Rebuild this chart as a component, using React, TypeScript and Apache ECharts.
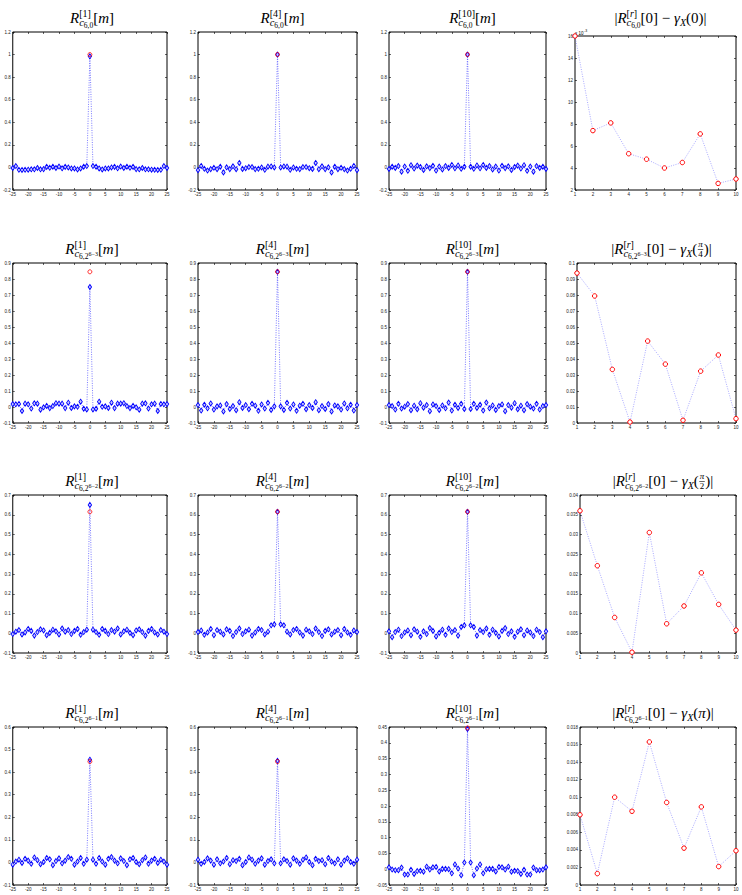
import React, { useEffect, useRef } from "react";
import * as echarts from "echarts";

// ---------------- data ----------------
const lagTicks = [-25,-24,-23,-22,-21,-20,-19,-18,-17,-16,-15,-14,-13,-12,-11,-10,-9,-8,-7,-6,-5,-4,-3,-2,-1,0,1,2,3,4,5,6,7,8,9,10,11,12,13,14,15,16,17,18,19,20,21,22,23,24,25];
const levelTicks = [1,2,3,4,5,6,7,8,9,10];
const iterLabels = ["1", "4", "10"];

// autocorrelation estimates for lags m = 1..25 (symmetric in m)
const r1c1 = [0.012,0.006,-0.009,-0.018,-0.009,-0.009,0,0.005,-0.008,0.008,-0.005,0.006,-0.003,0.005,-0.015,-0.017,-0.005,-0.017,-0.017,-0.02,-0.021,-0.022,-0.021,0.012,-0.005];
const r1c2 = [0,0.009,0.007,-0.021,0,-0.012,-0.015,0.003,0.003,-0.007,-0.013,0.04,-0.016,0.01,-0.015,0.001,-0.044,0.006,-0.016,-0.003,-0.015,-0.028,-0.012,0.013,-0.024];
const r1c3 = [0.006,-0.012,0.018,-0.008,0.022,-0.004,0.012,-0.018,0.008,-0.028,0.014,-0.006,0.01,-0.022,0.004,0.016,-0.01,0.02,-0.03,0.008,-0.038,0.012,-0.004,0.006,-0.014];
const r2c1 = [-0.015,-0.011,0.033,0.001,0.004,-0.006,0.027,-0.007,0.021,0.021,0.024,0.006,-0.007,0.007,-0.002,-0.017,0.021,0.023,-0.01,0.017,0.021,-0.025,0.019,0.017,0.018];
const r2c2 = [0.004,-0.018,0.026,-0.01,0.016,-0.024,0.008,0.02,-0.014,0.012,-0.006,0.03,-0.02,0.006,-0.012,0.018,-0.028,0.01,0.004,-0.016,0.022,-0.008,0.014,-0.022,0.012];
const r2c3 = [-0.012,0.02,-0.006,0.014,-0.022,0.028,-0.008,0.01,-0.018,0.006,0.016,-0.026,0.012,-0.004,0.024,-0.014,0.008,-0.02,0.018,0.002,-0.01,0.02,-0.016,0.006,0.012];
const r3c1 = [0.018,0.006,-0.008,0.022,0.012,-0.004,0.016,0.008,0.024,-0.006,0.01,0.018,0.002,-0.01,0.014,0.02,0.006,-0.012,0.012,0.022,0.004,-0.006,0.016,0.008,-0.004];
const r3c2 = [0.045,0.04,0.008,-0.006,0.016,0.022,0.004,-0.012,0.018,0.01,-0.004,0.024,0.006,-0.014,0.012,0.02,-0.006,0.008,0.016,-0.01,0.022,0.004,-0.008,0.014,0.006];
const r3c3 = [0.04,0.032,-0.012,0.016,0.006,0.024,-0.008,0.018,0.002,-0.016,0.012,0.026,-0.004,0.01,-0.018,0.008,0.02,-0.01,0.014,0.004,-0.014,0.018,0.006,-0.02,0.01];
const r4c1 = [0.012,-0.006,0.02,0.004,-0.01,0.016,0.024,0.008,-0.004,0.018,0.006,-0.012,0.014,0.02,0.002,-0.008,0.01,0.022,-0.006,0.008,0.016,-0.002,0.012,0.004,-0.01];
const r4c2 = [-0.004,0.014,0.006,-0.01,0.018,0.008,-0.006,0.012,0.022,0.002,-0.012,0.016,0.006,0.01,-0.008,0.02,0.004,-0.004,0.014,-0.01,0.008,0.018,0.002,-0.006,0.012];
const r4c3 = [0.021,-0.019,0.002,0.015,-0.013,0,0.001,0.001,-0.007,0.007,0.006,-0.001,0.008,-0.008,-0.005,-0.006,-0.015,-0.002,-0.017,-0.017,0.005,-0.003,-0.003,-0.001,0.006];

// lag-0 estimates (blue) and true values (red)
const peakEst = [[0.985, 1.0, 1.0], [0.75, 0.845, 0.845], [0.65, 0.615, 0.615], [0.455, 0.45, 0.444]];
const peakTrue = [1.0, 0.845, 0.615, 0.447];

// absolute errors vs level r
const err1 = [0.016, 0.0074, 0.0081, 0.0053, 0.0048, 0.0040, 0.0045, 0.0071, 0.0026, 0.0030];
const err2 = [0.0937, 0.0794, 0.0335, 0.0006, 0.0512, 0.0368, 0.0017, 0.0324, 0.0425, 0.0027];
const err3 = [0.036, 0.0221, 0.009, 0.0002, 0.0305, 0.0074, 0.0119, 0.0203, 0.0123, 0.0058];
const err4 = [0.008, 0.0013, 0.0100, 0.0084, 0.0163, 0.0094, 0.0042, 0.0089, 0.0021, 0.0039];

// y axis ranges per row (columns 1-3) and for the error column
const yRanges = [
  [[-0.2, 1.2, 0.2], [-0.2, 1.2, 0.2], [-0.2, 1.2, 0.2]],
  [[-0.1, 0.9, 0.1], [-0.1, 0.9, 0.1], [-0.1, 0.9, 0.1]],
  [[-0.1, 0.7, 0.1], [-0.1, 0.7, 0.1], [-0.1, 0.7, 0.1]],
  [[-0.1, 0.6, 0.1], [-0.1, 0.6, 0.1], [-0.05, 0.45, 0.05]],
];
const errRanges = [[0.002, 0.016, 0.002], [0, 0.1, 0.01], [0, 0.04, 0.005], [0, 0.018, 0.002]];

const lagData = [[r1c1, r1c2, r1c3], [r2c1, r2c2, r2c3], [r3c1, r3c2, r3c3], [r4c1, r4c2, r4c3]];
const errData = [err1, err2, err3, err4];

// ---------------- layout ----------------
const colLeft = [7, 198, 389];
const colRight = [167, 357, 546];
const errLeft = [575, 577, 580, 580];
const errRight = 736;
const rowTop = [32, 263, 495, 727];
const rowBottom = [190, 423, 653, 885];
const errTop = [36, 263, 495, 727];

const FT = '"Liberation Serif", "DejaVu Serif", serif';
const FA = '"Liberation Sans", Arial, sans-serif';

type A = { t?: string; s?: number; dy?: number; it?: boolean; sup?: A[]; sub?: A[]; num?: A[]; den?: A[] };

export default function App() {
  const ref = useRef<HTMLDivElement>(null);
  useEffect(() => {
    if (!ref.current) return;
    const chart = echarts.init(ref.current, undefined, { renderer: "svg" });
    const cv = document.createElement("canvas").getContext("2d")!;
    const tw = (t: string, s: number, it?: boolean) => {
      cv.font = `${it ? "italic " : ""}${s}px ${FT}`;
      return cv.measureText(t).width;
    };
    const wOf = (atoms: A[]): number => atoms.reduce((acc, a) => acc + aW(a), 0);
    const aW = (a: A): number => {
      if (a.sup) return Math.max(wOf(a.sup), wOf(a.sub || []));
      if (a.num) return Math.max(wOf(a.num), wOf(a.den || [])) + 2;
      return tw(a.t || "", a.s || 15, a.it);
    };
    const els: any[] = [];
    const place = (atoms: A[], x0: number, base: number) => {
      let x = x0;
      for (const a of atoms) {
        const w = aW(a);
        if (a.sup) {
          place(a.sup, x, base);
          place(a.sub || [], x, base);
        } else if (a.num) {
          const wn = wOf(a.num), wd = wOf(a.den || []);
          place(a.num, x + (w - wn) / 2, base);
          place(a.den || [], x + (w - wd) / 2, base);
          els.push({ type: "line", shape: { x1: x + 0.5, y1: base - 4.5, x2: x + w - 0.5, y2: base - 4.5 }, style: { stroke: "#000", lineWidth: 0.6 }, silent: true });
        } else {
          const s = a.s || 15;
          els.push({
            type: "text", x, y: base + (a.dy || 0) - 0.34 * s, silent: true,
            style: { text: a.t, fontSize: s, fontFamily: FT, fontStyle: a.it ? "italic" : "normal", fill: "#000", align: "left", verticalAlign: "middle", textAlign: "left", textVerticalAlign: "middle" },
          });
        }
        x += w;
      }
    };
    const title = (atoms: A[], cx: number, base: number) => {
      const w = wOf(atoms);
      place(atoms, cx - w / 2, base);
    };
    const subFor = (row: number): A[] => {
      const c: A = { t: "c", s: 10.5, it: true, dy: 3.5 };
      if (row === 0) return [c, { t: "6,0", s: 7.5, dy: 5.5 }];
      const k = ["", "6−3", "6−2", "6−1"][row];
      return [c, { t: "6,2", s: 7.5, dy: 5.5 }, { t: k, s: 6, dy: 2.5 }];
    };
    const argFor = (row: number): A[] => {
      if (row === 0) return [{ t: "0", s: 15 }];
      if (row === 3) return [{ t: "π", s: 15, it: true }];
      const d = row === 1 ? "4" : "2";
      return [{ num: [{ t: "π", s: 9, it: true, dy: -6.5 }], den: [{ t: d, s: 9, dy: 3.5 }] }];
    };

    const grids: any[] = [], xAxes: any[] = [], yAxes: any[] = [], series: any[] = [];
    const tick = { inside: true, length: 2, lineStyle: { color: "#000", width: 0.6 } };
    const lbl = { fontSize: 4.5, margin: 2, color: "#222", fontFamily: FA };
    const addAxes = (gi: number, xr: number[], yr: number[], yFmt?: (v: number) => string) => {
      const common = { type: "value", gridIndex: gi, axisLine: { show: false, onZero: false }, splitLine: { show: false }, axisTick: tick };
      xAxes.push({ ...common, position: "bottom", min: xr[0], max: xr[1], interval: xr[2], axisLabel: { ...lbl } });
      xAxes.push({ ...common, position: "top", min: xr[0], max: xr[1], interval: xr[2], axisLabel: { show: false } });
      yAxes.push({ ...common, position: "left", min: yr[0], max: yr[1], interval: yr[2], axisLabel: { ...lbl, formatter: yFmt } });
      yAxes.push({ ...common, position: "right", min: yr[0], max: yr[1], interval: yr[2], axisLabel: { show: false } });
    };

    let gi = 0;
    for (let r = 0; r < 4; r++) {
      for (let c = 0; c < 3; c++) {
        const top = rowTop[r], bottom = rowBottom[r];
        grids.push({ left: colLeft[c], top, width: colRight[c] - colLeft[c], height: bottom - top, show: true, borderColor: "#000", borderWidth: 1, backgroundColor: "transparent" });
        addAxes(gi, [-25, 25, 5], yRanges[r][c]);
        const lags = lagData[r][c];
        const pts = lagTicks.map((m) => [m, m === 0 ? peakEst[r][c] : lags[Math.abs(m) - 1]]);
        series.push({
          type: "line", xAxisIndex: gi * 2, yAxisIndex: gi * 2, data: pts, clip: false, silent: true,
          symbol: "diamond", symbolSize: [3.4, 5], showSymbol: true, z: 2,
          lineStyle: { color: "#2222ff", width: 0.6, type: [1, 1.4] },
          itemStyle: { color: "#c8c8ff", borderColor: "#0000ff", borderWidth: 0.9 },
        });
        series.push({
          type: "scatter", xAxisIndex: gi * 2, yAxisIndex: gi * 2, data: [[0, peakTrue[r]]], clip: false, silent: true,
          symbol: "circle", symbolSize: 4, z: 3,
          itemStyle: { color: "rgba(255,255,255,0)", borderColor: "#ff0000", borderWidth: 1 },
        });
        const cx = (colLeft[c] + colRight[c]) / 2 + 5;
        title([
          { t: "R", s: 15, it: true },
          { sup: [{ t: "[" + iterLabels[c] + "]", s: 10, dy: -6.5 }], sub: subFor(r) },
          { t: "[", s: 15 }, { t: "m", s: 15, it: true }, { t: "]", s: 15 },
        ], cx, top - 9);
        gi++;
      }
      // error column
      const top = errTop[r], bottom = rowBottom[r];
      grids.push({ left: errLeft[r], top, width: errRight - errLeft[r], height: bottom - top, show: true, borderColor: "#000", borderWidth: 1, backgroundColor: "transparent" });
      addAxes(gi, [1, 10, 1], errRanges[r], r === 0 ? (v: number) => String(Math.round(v * 1000)) : undefined);
      series.push({
        type: "line", xAxisIndex: gi * 2, yAxisIndex: gi * 2, data: levelTicks.map((k, i) => [k, errData[r][i]]), clip: false, silent: true,
        symbol: "circle", symbolSize: 4.5, showSymbol: true, z: 3,
        lineStyle: { color: "#6f6fff", width: 0.6, type: [1, 1.4] },
        itemStyle: { color: "#ffffff", borderColor: "#ff0000", borderWidth: 1 },
      });
      const cx4 = (errLeft[r] + errRight) / 2 + 5;
      title([
        { t: "|", s: 15 },
        { t: "R", s: 15, it: true },
        { sup: [{ t: "[", s: 10, dy: -6.5 }, { t: "r", s: 10, it: true, dy: -6.5 }, { t: "]", s: 10, dy: -6.5 }], sub: subFor(r) },
        { t: "[0]", s: 15 }, { t: " − ", s: 15 }, { t: "γ", s: 15, it: true }, { t: "X", s: 10, it: true, dy: 3 },
        { t: "(", s: 15 }, ...argFor(r), { t: ")", s: 15 }, { t: "|", s: 15 },
      ], cx4, rowTop[r] - 9);
      gi++;
    }
    // exponent label of first error panel
    els.push({ type: "text", x: 575, y: 33, silent: true, style: { text: "x 10", fontSize: 4.5, fontFamily: FA, fill: "#000", align: "left", verticalAlign: "middle", textAlign: "left", textVerticalAlign: "middle" } });
    els.push({ type: "text", x: 584, y: 31, silent: true, style: { text: "-3", fontSize: 3.5, fontFamily: FA, fill: "#000", align: "left", verticalAlign: "middle", textAlign: "left", textVerticalAlign: "middle" } });

    chart.setOption({
      animation: false,
      backgroundColor: "#ffffff",
      grid: grids, xAxis: xAxes, yAxis: yAxes, series,
      graphic: { elements: els },
    });
    return () => chart.dispose();
  }, []);
  return <div ref={ref} style={{ position: "absolute", left: 0, top: 0, width: 742, height: 895 }} />;
}
